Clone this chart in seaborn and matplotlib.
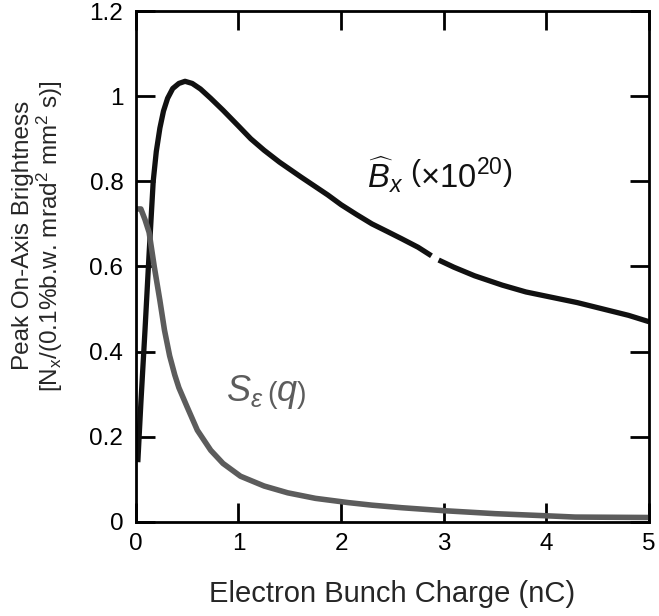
import numpy as np
import pandas as pd
import seaborn as sns
import matplotlib
matplotlib.use("Agg")
import matplotlib.pyplot as plt

# Peak brightness curve (x 1e20), gap in the scanned trace near 2.9 nC
charge_b = [0.02, 0.05, 0.09, 0.13, 0.17, 0.20, 0.235, 0.27, 0.31, 0.36, 0.42, 0.48,
            0.55, 0.63, 0.73, 0.85, 1.0, 1.12, 1.25, 1.4, 1.61, 1.87, 2.0, 2.15, 2.3,
            2.45, 2.59, 2.75, 2.88, 2.91, 2.95, 3.1, 3.3, 3.57, 3.8, 4.0, 4.3, 4.55,
            4.8, 5.0]
bright_b = [0.14, 0.28, 0.45, 0.63, 0.80, 0.87, 0.925, 0.965, 0.995, 1.018, 1.03, 1.035,
            1.03, 1.017, 0.995, 0.967, 0.93, 0.90, 0.873, 0.845, 0.81, 0.768, 0.745, 0.722,
            0.70, 0.682, 0.665, 0.645, 0.625, np.nan, 0.615, 0.598, 0.578, 0.556, 0.54,
            0.53, 0.515, 0.50, 0.485, 0.47]

# S_eps(q) curve
charge_s = [0.0, 0.05, 0.09, 0.13, 0.18, 0.235, 0.28, 0.33, 0.38, 0.42, 0.5, 0.6, 0.73,
            0.85, 1.02, 1.25, 1.48, 1.75, 2.07, 2.3, 2.59, 3.0, 3.5, 4.0, 4.28, 5.0]
bright_s = [0.735, 0.735, 0.71, 0.68, 0.60, 0.52, 0.45, 0.39, 0.345, 0.315, 0.27, 0.215,
            0.168, 0.137, 0.107, 0.084, 0.068, 0.055, 0.045, 0.039, 0.033, 0.026, 0.019,
            0.014, 0.011, 0.01]

x_ticks = [0, 1, 2, 3, 4, 5]
y_ticks = [0, 0.2, 0.4, 0.6, 0.8, 1.0, 1.2]
y_tick_labels = ["0", "0.2", "0.4", "0.6", "0.8", "1", "1.2"]

sns.set_theme(style="ticks")
plt.rcParams["font.family"] = ["Liberation Sans", "DejaVu Sans"]
plt.rcParams["mathtext.fontset"] = "custom"
plt.rcParams["mathtext.rm"] = "Liberation Sans"
plt.rcParams["mathtext.it"] = "Liberation Sans:italic"

df_b = pd.DataFrame({"charge": charge_b, "value": bright_b})
df_s = pd.DataFrame({"charge": charge_s, "value": bright_s})

fig = plt.figure(figsize=(6.59, 6.16), dpi=100)
ax = fig.add_axes([0.206, 0.153, 0.779, 0.829])

# seaborn drops NaN rows, so draw the brightness trace directly to keep the gap
ax.plot(df_b["charge"], df_b["value"], color="#111111", linewidth=3.8,
        solid_capstyle="butt", solid_joinstyle="round")
sns.lineplot(data=df_s, x="charge", y="value", color="#5c5c5c", linewidth=4.0,
             ax=ax, sort=False, estimator=None)

ax.set_xlim(0, 5)
ax.set_ylim(0, 1.2)
ax.set_xticks(x_ticks)
ax.set_xticklabels([str(t) for t in x_ticks])
ax.set_yticks(y_ticks)
ax.set_yticklabels(y_tick_labels)

ax.tick_params(direction="in", length=14, width=2, top=True, right=True,
               labelsize=17.5, color="black", labelcolor="black")
ax.tick_params(axis="y", pad=9)
ax.tick_params(axis="x", pad=8)
for s in ax.spines.values():
    s.set_linewidth(2)
    s.set_color("black")

ax.set_xlabel("Electron Bunch Charge (nC)", fontsize=21, labelpad=18)
ax.set_ylabel("Peak On-Axis Brightness\n[N$_\\mathrm{x}$/(0.1%b.w. mrad$^2$ mm$^2$ s)]",
              fontsize=17.5, linespacing=1.05)
ax.yaxis.set_label_coords(-0.137, 0.56)

ax.text(2.25, 0.815, r"$\widehat{B}_x\ \left(\times 10^{20}\right)$", fontsize=23.5,
        color="#111111", va="center", ha="left")
ax.text(0.88, 0.305, r"$S_{\varepsilon}\,\left(q\right)$", fontsize=26, color="#5c5c5c",
        va="center", ha="left")

fig.savefig("out.png", dpi=100)
